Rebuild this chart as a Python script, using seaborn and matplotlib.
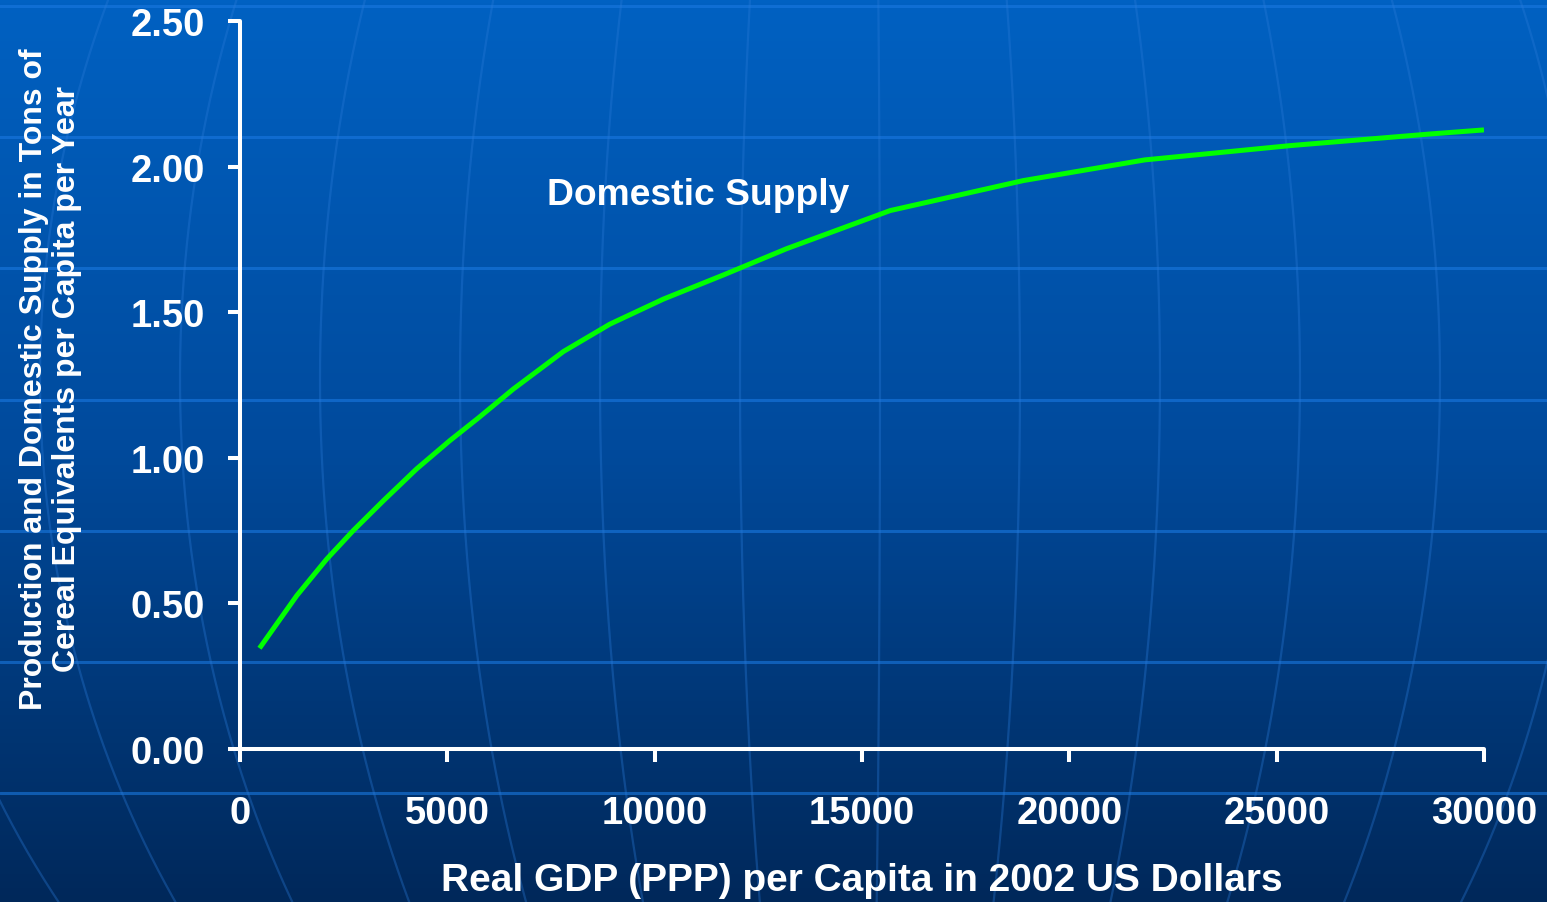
import numpy as np
import pandas as pd
import matplotlib
matplotlib.use("Agg")
import matplotlib.pyplot as plt
from matplotlib.colors import LinearSegmentedColormap
import seaborn as sns

# Values
gdp_per_capita = [470, 1370, 2090, 2730, 3460, 4260, 5060, 5750, 6590, 7800, 8920,
                  10210, 11660, 13180, 15680, 18890, 21820, 25320, 28700, 30000]
domestic_supply = [0.346, 0.527, 0.652, 0.750, 0.853, 0.962, 1.059, 1.137, 1.236, 1.365, 1.459,
                   1.545, 1.628, 1.718, 1.849, 1.952, 2.023, 2.072, 2.112, 2.126]
x_ticks = [0, 5000, 10000, 15000, 20000, 25000, 30000]
y_ticks = [0.0, 0.5, 1.0, 1.5, 2.0, 2.5]
series_label = "Domestic Supply"

df = pd.DataFrame({"gdp": gdp_per_capita, "supply": domestic_supply})

sns.set_theme(style="ticks")
plt.rcParams["font.family"] = ["Liberation Sans", "DejaVu Sans"]
plt.rcParams["font.weight"] = "bold"

W, H = 1547, 903
fig = plt.figure(figsize=(W / 100, H / 100), dpi=100)

# background: blue gradient with globe-like grid
bg = fig.add_axes([0, 0, 1, 1], zorder=0)
cmap = LinearSegmentedColormap.from_list("bg", ["#0061c2", "#004a9c", "#00285a"])
grad = np.linspace(0, 1, 256).reshape(-1, 1)
bg.imshow(grad, cmap=cmap, aspect="auto", extent=[0, W, H, 0])
for yy in np.arange(7, H, 131.2):
    bg.axhline(yy, color="#1a78e0", lw=2.2, alpha=0.6)
ys = np.linspace(0, H, 200)
shape = np.sqrt(1 - ((ys - 380) / 950) ** 2)
for d in np.arange(-960, 900, 140):
    bg.plot(860 + d * shape, ys, color="#2a7ad8", lw=1.6, alpha=0.35)
bg.set_xlim(0, W)
bg.set_ylim(H, 0)
bg.axis("off")

ax = fig.add_axes([240 / W, 1 - 750 / H, 1244 / W, 728 / H], zorder=1)
ax.patch.set_alpha(0)
sns.lineplot(data=df, x="gdp", y="supply", color="#00ff00", linewidth=3.6, ax=ax,
             solid_joinstyle="round", solid_capstyle="butt")

ax.set_xlim(0, 30000)
ax.set_ylim(0, 2.5)
ax.set_xticks(x_ticks)
ax.set_xticklabels([str(v) for v in x_ticks])
ax.set_yticks(y_ticks)
ax.set_yticklabels([f"{v:.2f}" for v in y_ticks])

for side in ["top", "right"]:
    ax.spines[side].set_visible(False)
for side in ["left", "bottom"]:
    ax.spines[side].set_color("white")
    ax.spines[side].set_linewidth(2.9)
    ax.spines[side].set_capstyle("round")

ax.tick_params(axis="both", direction="out", length=9, width=2.9, color="white",
               labelcolor="white", labelsize=27.5)
ax.tick_params(axis="y", pad=16)
ax.tick_params(axis="x", pad=24)
for lab in ax.get_xticklabels() + ax.get_yticklabels():
    lab.set_fontweight("bold")

ax.set_xlabel("Real GDP (PPP) per Capita in 2002 US Dollars", color="white",
              fontsize=28, fontweight="bold")
ax.xaxis.set_label_coords(0.5, -0.155)
ax.set_ylabel("Production and Domestic Supply in Tons of\nCereal Equivalents per Capita per Year",
              color="white", fontsize=23, fontweight="bold", linespacing=1.12)
ax.yaxis.set_label_coords(-0.127, 0.51)

ax.text(7400, 1.905, series_label, color="white", fontsize=26.8, fontweight="bold",
        ha="left", va="center")

fig.savefig("out.png", dpi=100)
